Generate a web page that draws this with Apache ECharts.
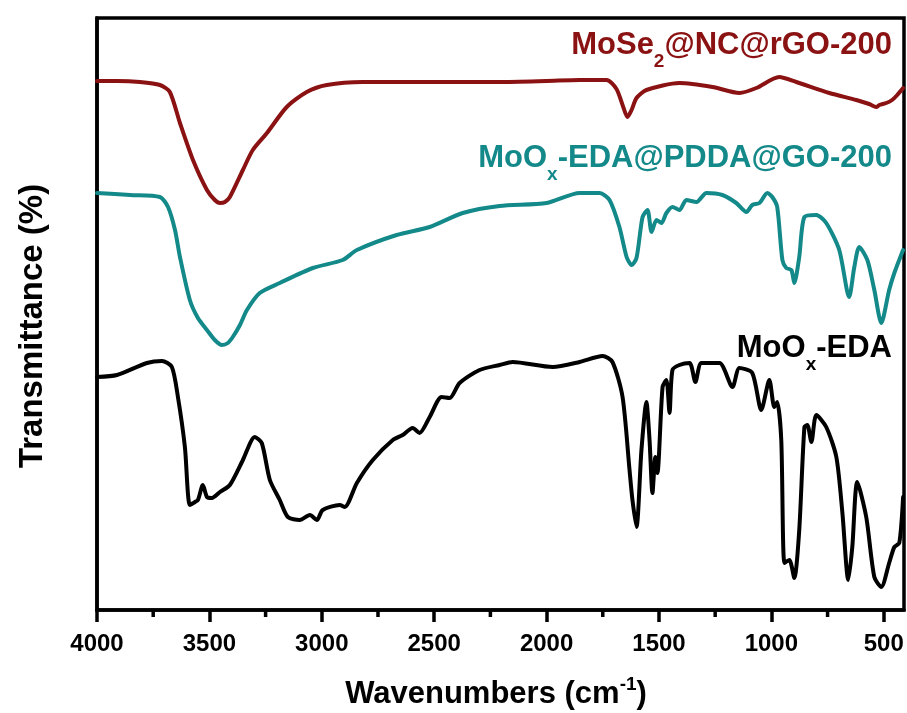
<!DOCTYPE html>
<html>
<head>
<meta charset="utf-8">
<script src="https://cdn.jsdelivr.net/npm/echarts@6/dist/echarts.min.js"></script>
<style>
  html, body { margin: 0; padding: 0; background: #fff; }
  #chart { width: 907px; height: 713px; }
</style>
</head>
<body>
<div id="chart"></div>
<script>
// FTIR spectra, wavenumber (cm-1) vs. offset transmittance (a.u.)
const majorTicks = [4000, 3500, 3000, 2500, 2000, 1500, 1000, 500];
const minorTicks = [3750, 3250, 2750, 2250, 1750, 1250, 750];

// MoSe2@NC@rGO-200
const redWn = [4000, 3911, 3809, 3720, 3676, 3631, 3573, 3511, 3476, 3453, 3431, 3409, 3351, 3307, 3244, 3156, 3067, 2978, 2818, 2596, 2373, 2209, 2000, 1853, 1733, 1689, 1662, 1640, 1622, 1600, 1556, 1409, 1262, 1142, 1067, 965, 889, 742, 622, 565, 533, 520, 489, 463, 440, 414];
const redT = [105.8, 105.8, 105.6, 105.0, 103.6, 97.4, 90.0, 84.0, 82.0, 81.4, 81.6, 82.6, 88.0, 92.0, 95.4, 100.6, 103.6, 105.0, 105.6, 105.6, 105.6, 105.6, 105.8, 106.0, 106.0, 104.2, 101.0, 98.6, 100.0, 102.4, 104.0, 105.4, 104.6, 103.4, 104.4, 106.6, 105.6, 103.4, 102.0, 101.2, 100.6, 101.0, 101.4, 102.0, 103.0, 104.4];

// MoOx-EDA@PDDA@GO-200
const tealWn = [4000, 3853, 3720, 3684, 3653, 3631, 3587, 3551, 3511, 3476, 3444, 3418, 3396, 3364, 3333, 3276, 3187, 3040, 2907, 2844, 2667, 2520, 2373, 2209, 2000, 1853, 1764, 1720, 1676, 1644, 1622, 1600, 1573, 1551, 1533, 1511, 1489, 1467, 1440, 1409, 1378, 1333, 1289, 1218, 1156, 1111, 1085, 1053, 1018, 996, 974, 951, 934, 911, 898, 876, 853, 800, 756, 698, 654, 631, 609, 573, 542, 511, 476, 453, 414];
const tealT = [83.4, 83.0, 82.6, 80.6, 76.0, 70.6, 62.0, 58.4, 56.0, 54.0, 53.0, 53.4, 54.6, 57.0, 60.0, 63.4, 65.4, 68.4, 70.0, 72.0, 75.0, 76.6, 79.4, 80.8, 81.4, 83.4, 83.4, 82.0, 76.6, 70.6, 69.0, 70.4, 78.6, 80.0, 75.6, 78.0, 77.4, 79.4, 80.6, 80.0, 82.0, 81.6, 83.4, 83.0, 81.4, 79.6, 81.0, 81.4, 83.4, 82.6, 80.6, 70.0, 68.4, 68.0, 65.4, 70.6, 78.6, 79.0, 77.4, 72.0, 62.6, 68.6, 72.6, 70.0, 64.0, 57.4, 64.0, 67.4, 72.0];

// MoOx-EDA
const blackWn = [4000, 3911, 3778, 3711, 3667, 3640, 3609, 3587, 3564, 3551, 3529, 3511, 3489, 3453, 3409, 3351, 3298, 3267, 3231, 3187, 3151, 3098, 3053, 3022, 2996, 2920, 2898, 2844, 2773, 2684, 2640, 2596, 2565, 2520, 2467, 2431, 2387, 2298, 2209, 2151, 1973, 1853, 1751, 1707, 1662, 1631, 1618, 1600, 1578, 1556, 1542, 1529, 1516, 1507, 1484, 1467, 1453, 1440, 1409, 1364, 1338, 1311, 1231, 1173, 1142, 1085, 1045, 1009, 987, 974, 956, 942, 920, 898, 876, 853, 840, 822, 800, 756, 711, 684, 658, 640, 618, 578, 542, 511, 476, 453, 431, 414];
const blackT = [46.6, 47.0, 49.4, 49.8, 48.6, 42.6, 32.6, 21.0, 21.6, 22.0, 25.0, 22.6, 22.4, 23.6, 25.0, 30.0, 34.6, 33.4, 26.0, 22.0, 18.6, 18.0, 19.0, 18.0, 20.0, 21.0, 20.6, 25.4, 30.0, 34.0, 35.0, 36.4, 35.4, 38.6, 42.6, 42.4, 45.4, 48.0, 49.0, 49.6, 48.6, 49.6, 50.8, 49.6, 42.6, 28.0, 22.0, 16.6, 32.0, 41.6, 34.0, 23.4, 30.6, 27.4, 44.6, 46.0, 39.4, 48.0, 49.0, 49.4, 45.6, 49.4, 49.4, 44.6, 48.4, 47.4, 40.0, 46.0, 40.6, 41.6, 34.0, 9.4, 10.0, 6.4, 16.0, 36.6, 37.0, 33.6, 39.0, 36.6, 30.6, 19.4, 6.0, 12.6, 25.6, 18.6, 6.6, 4.6, 9.4, 12.6, 13.4, 22.6];

const RED = '#8b1212';
const TEAL = '#14898a';
const BLACK = '#000000';
const FONT = '"Liberation Sans", Arial, Helvetica, sans-serif';

const zip = (xs, ys) => xs.map((x, i) => [x, ys[i]]);

const chart = echarts.init(document.getElementById('chart'), null, { renderer: 'canvas' });

// plot frame and wavenumber range
const frame = { left: 97, right: 3, top: 18, bottom: 103 };
const xMin = 410, xMax = 4000;
const yMin = 0, yMax = 118.4;

function lineSeries(name, wn, t, color) {
  return {
    name, type: 'line',
    data: zip(wn, t), showSymbol: false, smooth: 0.25, clip: true,
    lineStyle: { color, width: 4, cap: 'round', join: 'round' },
    z: 3
  };
}

function subLabel(x, y, color, parts) {
  return {
    type: 'text', x, y, z: 10,
    style: {
      text: parts, align: 'right', verticalAlign: 'middle', fill: color,
      font: 'bold 31px ' + FONT,
      rich: {
        a: { fontSize: 31, fontWeight: 'bold', fontFamily: FONT, fill: color },
        s: { fontSize: 19, fontWeight: 'bold', fontFamily: FONT, fill: color, padding: [34, 0, 0, 0] }
      }
    }
  };
}

chart.setOption({
  animation: false,
  backgroundColor: '#fff',
  grid: Object.assign({ show: true, borderColor: '#000', borderWidth: 3.5, backgroundColor: 'transparent' }, frame),
  xAxis: {
    type: 'value', inverse: true, min: xMin, max: xMax,
    axisLine: { show: true, onZero: false, lineStyle: { color: '#000', width: 3.5 } },
    axisTick: { show: true, customValues: majorTicks, length: 12, lineStyle: { color: '#000', width: 3.5 } },
    axisLabel: {
      show: true, customValues: majorTicks, margin: 22, color: '#000',
      fontSize: 24, fontWeight: 'bold', fontFamily: FONT,
      formatter: (v) => String(v)
    },
    splitLine: { show: false }
  },
  yAxis: {
    type: 'value', min: yMin, max: yMax,
    axisLine: { show: true, lineStyle: { color: '#000', width: 3.5 } },
    axisTick: { show: false }, axisLabel: { show: false }, splitLine: { show: false }
  },
  series: [
    lineSeries('MoSe2@NC@rGO-200', redWn, redT, RED),
    lineSeries('MoOx-EDA@PDDA@GO-200', tealWn, tealT, TEAL),
    lineSeries('MoOx-EDA', blackWn, blackT, BLACK)
  ]
});

// minor ticks of the wavenumber axis, placed through the axis scale
const axisY = chart.convertToPixel({ yAxisIndex: 0 }, yMin);
const minorTickEls = minorTicks.map((v) => {
  const px = chart.convertToPixel({ xAxisIndex: 0 }, v);
  return {
    type: 'line', z: 5, silent: true,
    shape: { x1: px, y1: axisY, x2: px, y2: axisY + 7 },
    style: { stroke: '#000', lineWidth: 3.5 }
  };
});

chart.setOption({
  graphic: [
    subLabel(892, 45, RED, '{a|MoSe}{s|2}{a|@NC@rGO-200}'),
    subLabel(892, 158, TEAL, '{a|MoO}{s|x}{a|-EDA@PDDA@GO-200}'),
    subLabel(892, 348, BLACK, '{a|MoO}{s|x}{a|-EDA}'),
    {
      type: 'text', x: 496, y: 694, z: 10,
      style: {
        text: '{a|Wavenumbers (cm}{p|-1}{a|)}', align: 'center', verticalAlign: 'middle',
        rich: {
          a: { fontSize: 31, fontWeight: 'bold', fontFamily: FONT, fill: '#000' },
          p: { fontSize: 19, fontWeight: 'bold', fontFamily: FONT, fill: '#000', padding: [0, 0, 18, 0] }
        }
      }
    },
    {
      type: 'text', x: 33, y: 326, rotation: Math.PI / 2, z: 10,
      style: {
        text: 'Transmittance (%)', align: 'center', verticalAlign: 'middle',
        font: 'bold 33px ' + FONT, fill: '#000'
      }
    }
  ].concat(minorTickEls)
});
</script>
</body>
</html>
